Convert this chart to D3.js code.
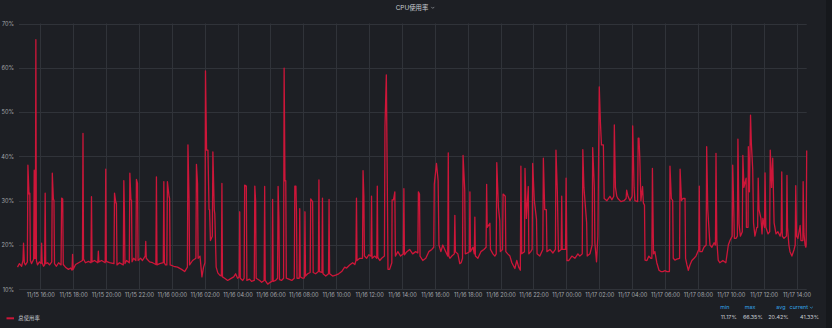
<!DOCTYPE html>
<html>
<head>
<meta charset="utf-8">
<script src="https://cdn.jsdelivr.net/npm/d3@7"></script>
<style>
  html, body { margin: 0; padding: 0; background: #16181c; }
  svg { display: block; }
  text { font-family: Inter, Roboto, "Noto Sans CJK SC", sans-serif; }
</style>
</head>
<body>
<div id="viz"></div>
<script>
// global sizes
let w = 832;
let h = 328;

// DATA: minutes since 11/15 14:37, cpu usage in %
let startTime = new Date(2023, 10, 15, 14, 37);
let windowMinutes = 2880;

let cpuSeries = [
  [0,15.0],[7,15.8],[15,15.2],[20,16.5],[22,20.4],[25,16.0],[29,15.5],[36,16.2],[38,38.0],[42,31.5],[45,31.7],[47,16.5],
  [51,15.8],[59,16.8],[61,36.9],[63,17],[65,17],[67,66.35],[69,16.5],[73,15.5],[80,16.2],[86,15.8],[88,20.4],[90,16.0],
  [95,15.2],[99,15.5],[101,31.7],[103,15.8],[110,16.0],[117,15.5],[125,16.2],[127,36.2],[131,30.2],[133,30.2],[135,15.8],
  [142,15.2],[150,16.0],[159,15.5],[161,30.6],[165,30.4],[167,15.6],[175,15.0],[186,14.5],[194,14.8],[199,14.3],[201,17.9],
  [203,14.5],[212,15.6],[223,16.0],[237,16.5],[239,45.2],[241,16.8],[248,16.0],[259,16.3],[268,16.0],[270,30.9],[272,16.2],
  [281,16.5],[293,16.0],[295,18.6],[297,16.2],[307,16.5],[320,16.0],[322,37.1],[324,16.3],[336,16.0],[352,15.8],[354,31.7],
  [359,29.5],[361,29.5],[363,15.5],[372,16.0],[386,15.5],[388,34.5],[390,28.0],[392,15.8],[398,16.5],[408,16.0],[410,36.2],
  [414,30.2],[416,30.2],[418,16.2],[424,17],[432,16.5],[434,34.8],[438,33.9],[440,16.5],[449,17.0],[456,16.5],[466,17.5],
  [468,20.8],[470,17.0],[482,16.2],[493,16.0],[505,15.6],[507,35.4],[509,15.5],[519,15.8],[532,16.0],[534,34.3],[536,16],
  [540,15.5],[545,15.5],[547,34.3],[553,31],[555,30.5],[557,15.5],[570,15.2],[584,15.0],[599,14.5],[610,14.0],[620,15.0],
  [622,42.6],[626,30.5],[628,15.5],[639,16.5],[651,17.0],[653,38.2],[657,33.9],[659,17.0],[666,17.5],[673,12.8],[679,15],
  [684,16],[686,59.3],[690,41.4],[695,41.4],[699,28],[701,28],[704,21],[711,22],[713,41.0],[718,28.0],[720,27],[725,15],
  [731,13.7],[738,13.2],[744,13.0],[746,33.9],[748,12.8],[756,12.5],[767,12.0],[778,12.4],[789,12.8],[796,13.5],[803,12.5],
  [809,12.8],[811,27.5],[813,12.5],[822,12.0],[827,12.5],[829,33.5],[835,33.3],[837,12.0],[847,12.3],[854,11.8],[864,12.0],
  [866,33.3],[869,30.0],[871,12.5],[884,12.0],[891,11.6],[900,12.0],[902,33.2],[904,12.0],[913,11.17],[920,11.5],[929,11.8],
  [931,30.3],[933,11.8],[942,12.0],[949,12.5],[951,33.2],[954,26],[956,12.2],[964,12.0],[971,12.5],[973,59.9],[976,34.5],
  [979,34.5],[981,12.5],[990,12.3],[1001,12.0],[1010,12.5],[1012,33.3],[1016,33.3],[1018,27.5],[1020,12.5],[1028,12.5],
  [1030,28.2],[1032,12.8],[1041,12.5],[1047,12.6],[1049,27.5],[1051,13.0],[1059,13.5],[1068,13.8],[1070,30.4],[1077,29.8],
  [1079,13.8],[1088,13.5],[1098,14.0],[1100,34.7],[1102,14.0],[1111,13.8],[1113,30.6],[1115,13.5],[1125,13.0],[1135,13.5],
  [1137,30.3],[1139,13.5],[1150,13.0],[1161,13.2],[1172,13.5],[1183,14.0],[1194,15.0],[1201,14.8],[1212,15.5],[1223,16.0],
  [1231,15.6],[1235,16.5],[1237,30.6],[1239,16.5],[1249,17.0],[1259,17.0],[1261,36.8],[1264,31.0],[1266,17.5],[1274,17.0],
  [1282,17.8],[1290,17.5],[1292,31.0],[1294,17.0],[1304,17.5],[1311,17.0],[1313,33.3],[1315,17.2],[1322,16.5],[1329,17],
  [1339,17.5],[1341,46.7],[1346,58.4],[1350,30.2],[1352,14.5],[1358,14.5],[1366,16],[1367,30.2],[1372,30.2],[1377,32.0],
  [1379,17.5],[1388,18.5],[1398,17.5],[1408,18],[1410,32.7],[1412,17.8],[1421,18.5],[1431,19.0],[1442,18.0],[1453,18.5],
  [1461,18.2],[1463,32.0],[1467,31.5],[1469,17.5],[1479,16.5],[1490,17.0],[1501,18.5],[1512,19.0],[1519,19.5],[1521,33.7],
  [1529,38.4],[1535,34.5],[1538,20.0],[1545,18.5],[1552,20.0],[1559,19.0],[1570,17.5],[1572,40.8],[1574,17.5],[1578,17.0],
  [1585,17.5],[1594,18],[1596,26.7],[1598,18.5],[1607,18.0],[1614,15.8],[1619,16],[1624,17],[1626,40.2],[1632,32.5],
  [1634,18.0],[1643,18.2],[1649,18.5],[1651,32.0],[1653,18.5],[1662,19.5],[1667,18.0],[1669,26.3],[1671,17.5],[1680,17.0],
  [1691,18.5],[1702,19.0],[1710,19.5],[1712,33.7],[1714,24],[1724,24.9],[1726,19.0],[1735,18.0],[1742,17.5],[1747,18],
  [1749,38.6],[1755,28.5],[1760,25.5],[1762,18.5],[1770,19.0],[1772,31.5],[1780,31.0],[1782,18.5],[1789,18.0],[1797,17.5],
  [1804,16.0],[1815,14.7],[1822,16.5],[1829,15],[1835,14.3],[1837,37.8],[1840,18],[1850,18.5],[1852,37.3],[1857,26],
  [1864,33.2],[1866,18.0],[1873,18.5],[1878,19],[1880,38.4],[1886,30],[1894,25.8],[1896,18.0],[1906,17.5],[1917,19],
  [1919,39.6],[1924,28],[1930,28.0],[1932,18.5],[1943,19.0],[1954,18.2],[1963,19.0],[1965,41.4],[1970,32],[1974,18.5],
  [1984,19],[1986,31.0],[1988,19.0],[2000,19],[2002,35.1],[2005,16.5],[2012,16.5],[2023,17.5],[2034,17.0],[2045,18.0],
  [2052,17.5],[2061,18],[2063,41.5],[2067,33],[2077,25],[2079,17.5],[2089,18.0],[2097,20],[2099,42.0],[2105,33],[2107,20.5],
  [2113,16.2],[2118,22],[2123,55.7],[2127,48],[2131,42.6],[2138,42.6],[2141,30.5],[2151,30.0],[2162,31.0],[2169,30.2],
  [2176,31],[2178,47.1],[2182,33],[2187,31.0],[2191,30.5],[2202,29.8],[2213,30.0],[2221,30.5],[2223,32.4],[2228,31.0],
  [2235,30.0],[2243,31],[2245,46.9],[2250,33],[2253,30.0],[2263,29.8],[2265,44.1],[2268,44.1],[2271,39.5],[2275,30.0],
  [2281,33.2],[2284,29.5],[2288,29.0],[2290,16.6],[2297,16.5],[2304,17.5],[2311,17.0],[2315,17],[2317,37.3],[2321,18.0],
  [2326,18.5],[2333,16.0],[2341,14.3],[2348,14.0],[2355,14.0],[2363,14.2],[2370,14.0],[2379,14],[2381,37.8],[2386,30.5],
  [2391,30.0],[2393,17.0],[2399,16.6],[2406,16.8],[2416,17],[2418,37.1],[2423,30],[2428,30.5],[2436,30.5],[2438,17.0],
  [2443,15.5],[2448,14.3],[2454,15.5],[2461,16.5],[2469,17.0],[2476,17.5],[2486,19],[2488,33.3],[2490,18.5],[2498,18.5],
  [2505,19.5],[2513,20],[2515,42.2],[2519,28],[2527,20.0],[2534,19.5],[2542,20.5],[2547,20],[2549,40.7],[2552,21],
  [2557,16.6],[2563,16.0],[2574,16.5],[2585,16.0],[2594,20.0],[2600,21.0],[2608,22],[2610,38.0],[2614,27.5],[2616,21.5],
  [2622,21.5],[2627,22],[2629,43.9],[2633,24.8],[2638,22],[2645,23],[2647,40.2],[2651,33],[2659,35.1],[2660,24],[2666,24],
  [2667,42.2],[2671,32],[2675,49.3],[2678,43],[2683,37.1],[2686,25],[2691,22.0],[2698,24],[2701,24],[2703,35.1],[2706,28],
  [2713,26],[2717,22.5],[2720,26],[2726,24],[2728,36.3],[2731,24],[2739,22.5],[2745,23],[2747,41.4],[2752,33],[2756,39.6],
  [2761,25],[2768,22.5],[2775,23],[2783,22.0],[2787,23],[2789,36.5],[2791,22],[2797,21.5],[2806,22],[2808,35.7],[2810,24],
  [2815,20.0],[2819,18.5],[2826,17.5],[2834,19.0],[2838,20],[2840,33.4],[2843,22],[2848,21.5],[2856,24.4],[2859,21],
  [2866,21.0],[2867,34.3],[2870,22.5],[2874,20.0],[2877,19.5],[2878,20],[2880,41.33]
];

let yTicks = [10, 20, 30, 40, 50, 60, 70];
let panelTitle = "CPU使用率";
let seriesName = "总使用率";
let statNames = ["min", "max", "avg", "current"];
let statValues = ["11.17%", "66.35%", "20.42%", "41.33%"];

// svg
let viz = d3.select("#viz")
  .append("svg")
    .attr("width", w)
    .attr("height", h)
;

viz.append("rect")
  .attr("x", 0).attr("y", 0)
  .attr("width", 826).attr("height", h)
  .attr("fill", "#1d1f24")
;

// SCALES
let xScale = d3.scaleTime()
  .domain([startTime, d3.timeMinute.offset(startTime, windowMinutes)])
  .range([17.5, 806.7]);
let yScale = d3.scaleLinear().domain([10, 70]).range([289.3, 23.5]);

let hourTicks = xScale.ticks(d3.timeHour.every(2));

// grid
viz.append("g").selectAll("line").data(yTicks).enter()
  .append("line")
    .attr("x1", 19)
    .attr("x2", 806.7)
    .attr("y1", d => Math.round(yScale(d)) + 0.5)
    .attr("y2", d => Math.round(yScale(d)) + 0.5)
    .attr("stroke", "#303339")
    .attr("stroke-width", 1)
;
viz.append("g").selectAll("line").data(hourTicks).enter()
  .append("line")
    .attr("x1", d => Math.round(xScale(d)) + 0.5)
    .attr("x2", d => Math.round(xScale(d)) + 0.5)
    .attr("y1", yScale(70))
    .attr("y2", yScale(10))
    .attr("stroke", "#303339")
    .attr("stroke-width", 1)
;

// axes (labels only)
let xAxis = d3.axisBottom(xScale)
  .tickValues(hourTicks)
  .tickFormat(d3.timeFormat("%m/%d %H:%M"))
  .tickSize(0)
  .tickPadding(3);
let xg = viz.append("g").attr("transform", "translate(0,290.5)").call(xAxis);
xg.select(".domain").remove();
xg.selectAll("text").attr("fill", "#a3a6ab").style("font-size", "5.6px");

let yAxis = d3.axisLeft(yScale)
  .tickValues(yTicks)
  .tickFormat(d => d + "%")
  .tickSize(0)
  .tickPadding(0);
let yg = viz.append("g").attr("transform", "translate(14,0)").call(yAxis);
yg.select(".domain").remove();
yg.selectAll("text").attr("fill", "#a3a6ab").style("font-size", "5.6px");

// the line
let lineMaker = d3.line()
  .x(d => xScale(d3.timeMinute.offset(startTime, d[0])))
  .y(d => yScale(d[1]));

viz.append("path")
  .datum(cpuSeries)
  .attr("d", lineMaker)
  .attr("fill", "none")
  .attr("stroke", "#cc1639")
  .attr("stroke-width", 1.3)
  .attr("stroke-linejoin", "round")
;

// title
viz.append("text")
  .text(panelTitle)
  .attr("x", 412)
  .attr("y", 9.6)
  .attr("text-anchor", "middle")
  .attr("fill", "#c7cbd1")
  .style("font-size", "6.4px")
;
viz.append("path")
  .attr("d", "M431.3,6.9 L432.8,8.4 L434.3,6.9")
  .attr("fill", "none")
  .attr("stroke", "#9a9ea4")
  .attr("stroke-width", 0.7)
;

// legend
viz.append("line")
  .attr("x1", 6.5).attr("x2", 14)
  .attr("y1", 318.3).attr("y2", 318.3)
  .attr("stroke", "#cc1639")
  .attr("stroke-width", 2)
;
viz.append("text")
  .text(seriesName)
  .attr("x", 18.3)
  .attr("y", 320.3)
  .attr("fill", "#c7cbd1")
  .style("font-size", "5.4px")
;

let headerRight = [729.5, 755.5, 785.5, 808];
let valueRight = [736.7, 762.7, 788.5, 819];

viz.append("g").selectAll("text").data(statNames).enter()
  .append("text")
    .text(d => d)
    .attr("x", (d, i) => headerRight[i])
    .attr("y", 309.3)
    .attr("text-anchor", "end")
    .attr("fill", "#33a2e5")
    .style("font-size", "5.4px")
;
viz.append("path")
  .attr("d", "M810,306.8 L811.4,308.2 L812.8,306.8")
  .attr("fill", "none")
  .attr("stroke", "#33a2e5")
  .attr("stroke-width", 0.7)
;
viz.append("g").selectAll("text").data(statValues).enter()
  .append("text")
    .text(d => d)
    .attr("x", (d, i) => valueRight[i])
    .attr("y", 319.4)
    .attr("text-anchor", "end")
    .attr("fill", "#c7cbd1")
    .style("font-size", "5.4px")
;
</script>
</body>
</html>
